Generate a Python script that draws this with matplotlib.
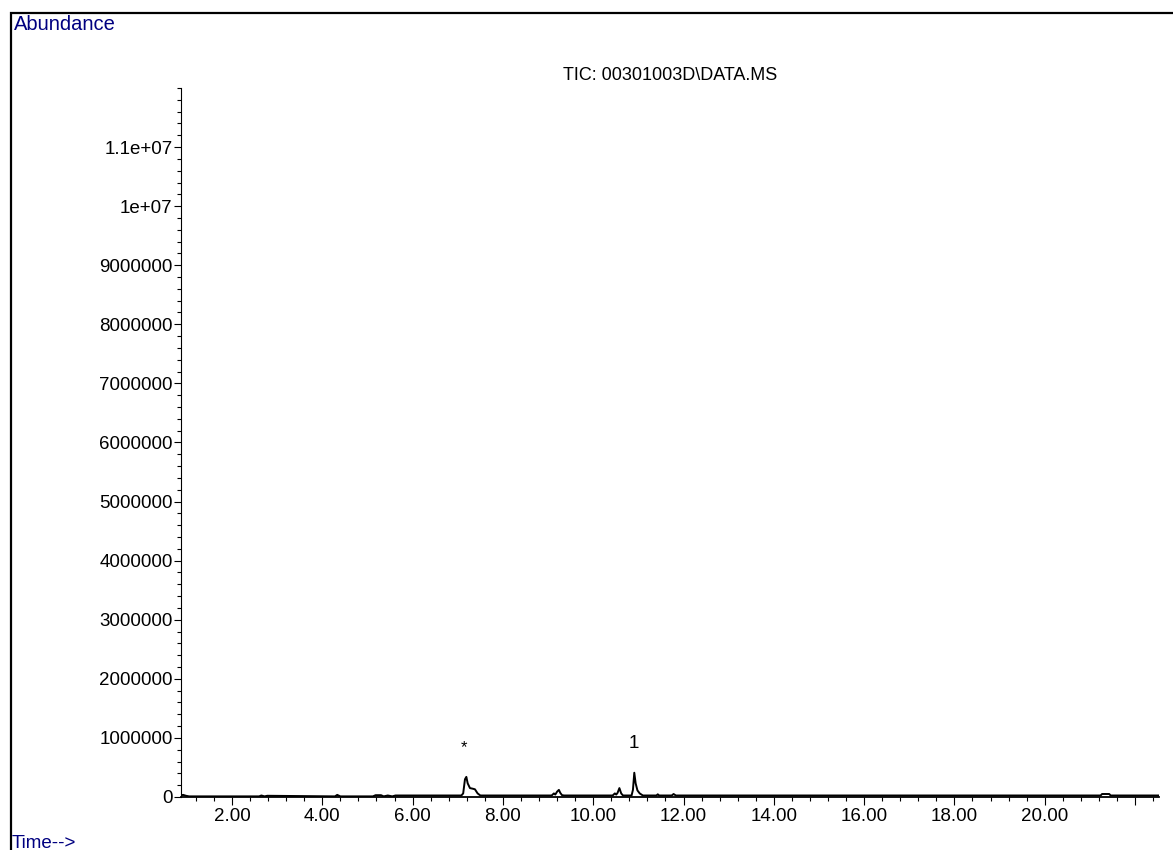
import matplotlib.pyplot as plt
from matplotlib.patches import Rectangle
from matplotlib.ticker import MultipleLocator

plt.rcParams['font.family'] = ['Liberation Sans', 'DejaVu Sans']

# retention time (min) and total ion count
rt = [0.87, 0.92, 0.98, 1.05, 1.5, 2.6, 2.65, 2.72, 2.78, 4.28, 4.33, 4.40,
      5.12, 5.18, 5.30, 5.36, 5.45, 5.55, 5.62, 7.08, 7.12, 7.16, 7.19, 7.22,
      7.27, 7.33, 7.38, 7.44, 7.50, 9.08, 9.13, 9.16, 9.20, 9.24, 9.27, 9.31,
      9.36, 10.43, 10.48, 10.51, 10.54, 10.58, 10.62, 10.66, 10.85, 10.88,
      10.91, 10.94, 10.98, 11.03, 11.10, 11.40, 11.43, 11.46, 11.74, 11.78,
      11.83, 21.24, 21.27, 21.43, 21.46, 22.53]
tic = [30000, 35000, 20000, 10000, 10000, 10000, 25000, 10000, 20000, 10000,
       35000, 10000, 10000, 30000, 30000, 10000, 25000, 10000, 25000, 25000,
       60000, 300000, 340000, 230000, 150000, 140000, 130000, 60000, 25000,
       25000, 60000, 40000, 90000, 120000, 70000, 30000, 25000, 25000, 60000,
       40000, 70000, 150000, 60000, 25000, 25000, 120000, 410000, 230000,
       110000, 60000, 25000, 25000, 45000, 25000, 25000, 50000, 25000, 25000,
       50000, 50000, 25000, 25000]

y_ticks = [0, 1000000, 2000000, 3000000, 4000000, 5000000, 6000000, 7000000,
           8000000, 9000000, 10000000, 11000000]
y_labels = ['0', '1000000', '2000000', '3000000', '4000000', '5000000',
            '6000000', '7000000', '8000000', '9000000', '1e+07', '1.1e+07']
x_ticks = [2, 4, 6, 8, 10, 12, 14, 16, 18, 20, 22]
x_labels = ['2.00', '4.00', '6.00', '8.00', '10.00', '12.00', '14.00',
            '16.00', '18.00', '20.00', '']

peak_labels = ['*', '1']
peak_rt = [7.14, 10.90]
peak_y = [830000, 910000]

fig = plt.figure(figsize=(11.73, 8.5), dpi=100)
ax = fig.add_axes([0.1543, 0.0624, 0.988 - 0.1543, 0.8965 - 0.0624])

ax.plot(rt, tic, color='black', lw=1.4)
ax.text(peak_rt[0], peak_y[0], peak_labels[0], ha='center', va='center', fontsize=12)
ax.text(peak_rt[1], peak_y[1], peak_labels[1], ha='center', va='center', fontsize=13.5)

ax.set_xlim(0.87, 22.53)
ax.set_ylim(0, 12000000)
ax.set_yticks(y_ticks)
ax.set_yticklabels(y_labels)
ax.yaxis.set_minor_locator(MultipleLocator(200000))
ax.set_xticks(x_ticks)
ax.set_xticklabels(x_labels)
ax.xaxis.set_minor_locator(MultipleLocator(0.4))

for side in ['top', 'right']:
    ax.spines[side].set_visible(False)
ax.spines['left'].set_linewidth(0.8)
ax.spines['bottom'].set_linewidth(1.3)
ax.tick_params(axis='both', which='major', direction='out', length=6,
               width=0.8, labelsize=13.5, pad=2)
ax.tick_params(axis='both', which='minor', direction='out', length=3,
               width=0.8)
ax.tick_params(axis='y', which='major', length=5, pad=1)

ax.text(0.5, 1.005, 'TIC: 00301003D\\DATA.MS', transform=ax.transAxes,
        ha='center', va='bottom', fontsize=13)

# instrument-style frame and corner captions
fig.patches.append(Rectangle((0.0094, -0.05), 1.2, 1.0347, transform=fig.transFigure,
                             fill=False, lw=1.6, edgecolor='black'))
fig.text(0.012, 0.971, 'Abundance', color='#000080', fontsize=14.5,
         ha='left', va='center')
fig.text(0.010, 0.008, 'Time-->', color='#000080', fontsize=13.5,
         ha='left', va='center')

fig.savefig('out.png', dpi=100)
